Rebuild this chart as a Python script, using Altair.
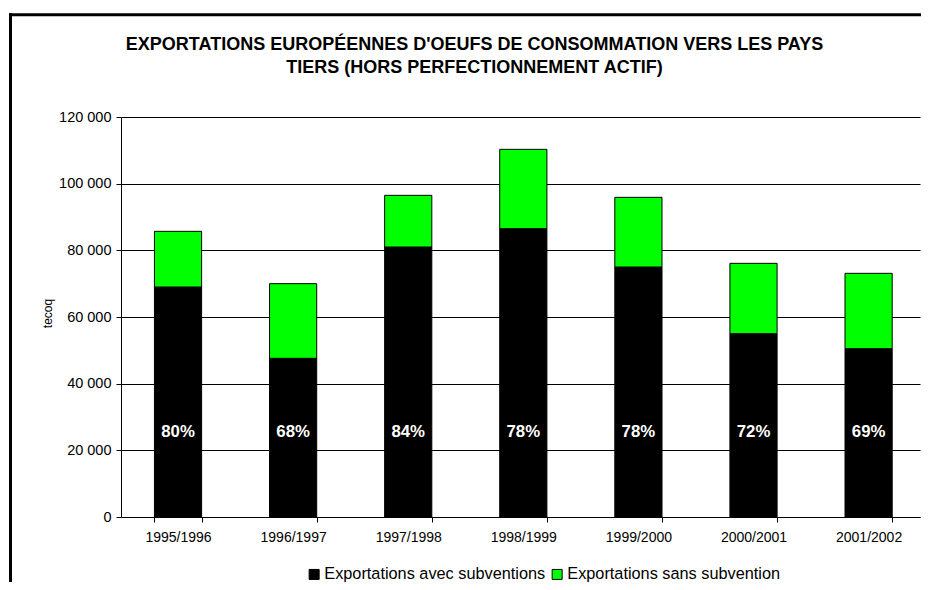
import altair as alt
import pandas as pd

seasons = ["1995/1996", "1996/1997", "1997/1998", "1998/1999", "1999/2000", "2000/2001", "2001/2002"]
avec = [69000, 47600, 81000, 86500, 75000, 55000, 50500]
sans = [16700, 22400, 15500, 23800, 20900, 21100, 22600]
shares = ["80%", "68%", "84%", "78%", "78%", "72%", "69%"]
series = ["Exportations avec subventions", "Exportations sans subvention"]
colors = ["#000000", "#00FF00"]
y_ticks = [0, 20000, 40000, 60000, 80000, 100000, 120000]
title_lines = ["EXPORTATIONS EUROPÉENNES D'OEUFS DE CONSOMMATION VERS LES PAYS",
               "TIERS (HORS PERFECTIONNEMENT ACTIF)"]

rows = []
for i, s in enumerate(seasons):
    rows.append({"season": s, "series": series[0], "k": 0, "value": avec[i]})
    rows.append({"season": s, "series": series[1], "k": 1, "value": sans[i]})
df = pd.DataFrame(rows)
lab = pd.DataFrame({"season": seasons, "share": shares})

FONT = "Liberation Sans"

x_enc = alt.X(
    "season:N", sort=seasons, title=None,
    scale=alt.Scale(paddingInner=0.59, paddingOuter=0.266, align=0.546),
    axis=alt.Axis(labelAngle=0, tickBand="extent", labelFontSize=14, labelPadding=8,
                  tickSize=5, grid=False, labelFont=FONT),
)

bars = alt.Chart(df).mark_bar(stroke="black", strokeWidth=1).encode(
    x=x_enc,
    y=alt.Y(
        "value:Q", stack="zero",
        scale=alt.Scale(domain=[0, 120000], nice=False),
        axis=alt.Axis(values=y_ticks,
                      labelExpr="replace(format(datum.value, ','), ',', ' ')",
                      title="tecoq", titleFontSize=12, titleFontWeight="normal",
                      titleX=-74, titleY=196, titleAngle=270, titleAlign="center",
                      titleBaseline="middle", titleFont=FONT,
                      labelFontSize=14.5, labelPadding=5, tickSize=5, labelFont=FONT,
                      grid=True, gridColor="black", gridWidth=1.2),
    ),
    color=alt.Color(
        "series:N", scale=alt.Scale(domain=series, range=colors),
        legend=alt.Legend(title=None, orient="none", legendX=185, legendY=449,
                          direction="horizontal", symbolType="square", symbolSize=100,
                          symbolStrokeColor="black", symbolStrokeWidth=1,
                          labelFontSize=16.3, labelFont=FONT, labelColor="black",
                          labelOffset=2, columnPadding=3, labelLimit=600, padding=0),
    ),
    order=alt.Order("k:Q", sort="ascending"),
)

pct = alt.Chart(lab).mark_text(color="white", fontWeight="bold", fontSize=16.8,
                               font=FONT, baseline="middle").encode(
    x=alt.X("season:N", sort=seasons),
    y=alt.datum(25500),
    text="share:N",
)

frame_data = alt.Data(values=[{"a": 1}])
left_line = alt.Chart(frame_data).mark_rule(color="black", strokeWidth=3).encode(
    x=alt.value(-110.5), y=alt.value(-103.7), y2=alt.value(475))
top_line = alt.Chart(frame_data).mark_rule(color="black", strokeWidth=3).encode(
    x=alt.value(-112), x2=alt.value(815), y=alt.value(-102.2))

chart = alt.layer(bars, pct, left_line, top_line).properties(
    width=799, height=400,
    autosize=alt.AutoSizeParams(type="none"),
    padding={"left": 113, "top": 109, "right": 1, "bottom": 65},
    title=alt.TitleParams(title_lines, font=FONT, fontSize=18, fontWeight="bold",
                          color="black", anchor="middle", frame="group", dx=-46,
                          offset=-65, lineHeight=23),
).configure_view(stroke=None).configure_axis(
    domainColor="black", tickColor="black", labelColor="black", titleColor="black",
    domainWidth=1, tickWidth=1,
)

chart.save("out.html", embed_options={"renderer": "svg", "actions": False})
